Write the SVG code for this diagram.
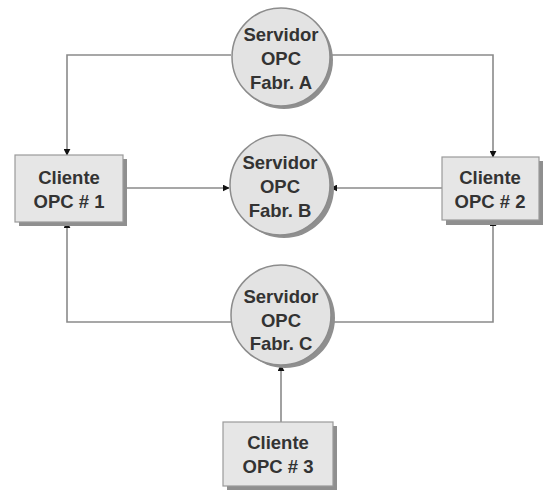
<svg xmlns="http://www.w3.org/2000/svg" width="550" height="492" viewBox="0 0 550 492">
  <style>
    .srv { fill: #e3e3e3; stroke: #8c8c8c; stroke-width: 1.5; }
    .box { fill: #e6e6e6; stroke: #9a9a9a; stroke-width: 1.2; }
    .shadow { fill: #8f8f8f; }
    .lbl { font-family: "Liberation Sans", Arial, sans-serif; font-weight: bold; font-size: 18.5px; fill: #333333; text-anchor: middle; }
    .wire { fill: none; stroke: #8a8a8a; stroke-width: 1.6; }
  </style>
  <defs>
    <marker id="arrow" viewBox="0 0 10 10" refX="9" refY="5" markerWidth="7" markerHeight="7" markerUnits="userSpaceOnUse" orient="auto">
      <path d="M0,0 L10,5 L0,10 Z" fill="#111111"/>
    </marker>
  </defs>
  <rect width="550" height="492" fill="#ffffff"/>

  <!-- connectors -->
  <g id="connectors">
    <path class="wire" d="M231,55 H67 V155" marker-end="url(#arrow)"/>
    <path class="wire" d="M331,55 H493 V157" marker-end="url(#arrow)"/>
    <path class="wire" d="M123,188 H229" marker-end="url(#arrow)"/>
    <path class="wire" d="M442,188 H331" marker-end="url(#arrow)"/>
    <path class="wire" d="M232,322 H67 V222" marker-end="url(#arrow)"/>
    <path class="wire" d="M331,322 H493 V220" marker-end="url(#arrow)"/>
    <path class="wire" d="M281,422 V365" marker-end="url(#arrow)"/>
  </g>

  <!-- OPC servers -->
  <g id="servidor-a">
    <circle class="shadow" cx="284" cy="60" r="49"/>
    <circle class="srv" cx="281" cy="57" r="49"/>
    <text class="lbl" x="281" y="41">Servidor</text>
    <text class="lbl" x="281" y="65">OPC</text>
    <text class="lbl" x="281" y="89">Fabr. A</text>
  </g>
  <g id="servidor-b">
    <circle class="shadow" cx="284" cy="188" r="50"/>
    <circle class="srv" cx="280" cy="185" r="50"/>
    <text class="lbl" x="280" y="169">Servidor</text>
    <text class="lbl" x="280" y="193">OPC</text>
    <text class="lbl" x="280" y="217">Fabr. B</text>
  </g>
  <g id="servidor-c">
    <circle class="shadow" cx="285" cy="318" r="50"/>
    <circle class="srv" cx="281" cy="315" r="50"/>
    <text class="lbl" x="281" y="303">Servidor</text>
    <text class="lbl" x="281" y="327">OPC</text>
    <text class="lbl" x="281" y="350">Fabr. C</text>
  </g>

  <!-- OPC clients -->
  <g id="cliente-1">
    <rect class="shadow" x="19" y="159" width="108" height="67"/>
    <rect class="box" x="15" y="155" width="108" height="67"/>
    <text class="lbl" x="69" y="184">Cliente</text>
    <text class="lbl" x="69" y="208">OPC # 1</text>
  </g>
  <g id="cliente-2">
    <rect class="shadow" x="446" y="161" width="97" height="64"/>
    <rect class="box" x="442" y="157" width="97" height="63"/>
    <text class="lbl" x="490" y="184">Cliente</text>
    <text class="lbl" x="490" y="208">OPC # 2</text>
  </g>
  <g id="cliente-3">
    <rect class="shadow" x="227" y="426" width="110" height="64"/>
    <rect class="box" x="223" y="422" width="110" height="64"/>
    <text class="lbl" x="278" y="449">Cliente</text>
    <text class="lbl" x="278" y="473">OPC # 3</text>
  </g>
</svg>
